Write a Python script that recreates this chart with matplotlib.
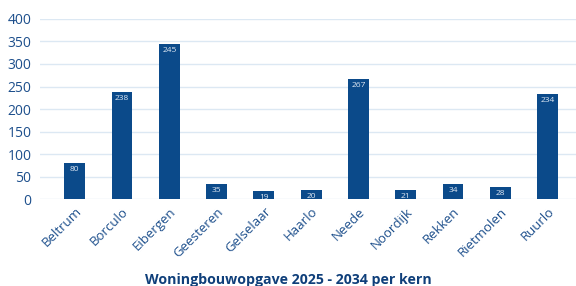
import matplotlib
matplotlib.use("Agg")
import matplotlib.pyplot as plt

plt.rcParams['font.family'] = ['Open Sans', 'DejaVu Sans']

# Woningbouwopgave per kern
kernen = ["Beltrum", "Borculo", "Eibergen", "Geesteren", "Gelselaar", "Haarlo",
          "Neede", "Noordijk", "Rekken", "Rietmolen", "Ruurlo"]
aantallen = [80, 238, 345, 35, 19, 20, 267, 21, 34, 28, 234]
labels = ["80", "238", "245", "35", "19", "20", "267", "21", "34", "28", "234"]
yticks = [0, 50, 100, 150, 200, 250, 300, 350, 400]

blauw = "#0b4a8a"
tekst = "#1d4f8c"

fig = plt.figure(figsize=(5.76, 2.86), dpi=100)
ax = fig.add_axes([0.069, 0.303, 0.931, 0.631])

x = range(len(kernen))
bars = ax.bar(x, aantallen, width=0.44, color=blauw, zorder=3)

for b, lab in zip(bars, labels):
    ax.text(b.get_x() + b.get_width() / 2, b.get_height() - 7, lab,
            ha="center", va="top", fontsize=6, color="#dfe8f3", zorder=4)

ax.set_ylim(0, 400)
ax.set_xlim(-0.74, 10.6)
ax.set_yticks(yticks)
ax.yaxis.grid(True, color="#dce8f3", linewidth=1, zorder=0)
ax.set_axisbelow(True)
for s in ax.spines.values():
    s.set_visible(False)
ax.tick_params(axis="both", length=0, colors=tekst)
ax.tick_params(axis="y", labelsize=10, pad=6)
ax.set_xticks(list(x))
ax.set_xticklabels(kernen, rotation=45, ha="right", rotation_mode="anchor",
                   fontsize=9.5, color=tekst)
ax.tick_params(axis="x", pad=4)

fig.text(0.5, 0.008, "Woningbouwopgave 2025 - 2034 per kern", ha="center",
         fontsize=10.2, fontweight="bold", color="#0f3f7a")

fig.savefig("out.png", dpi=100)
